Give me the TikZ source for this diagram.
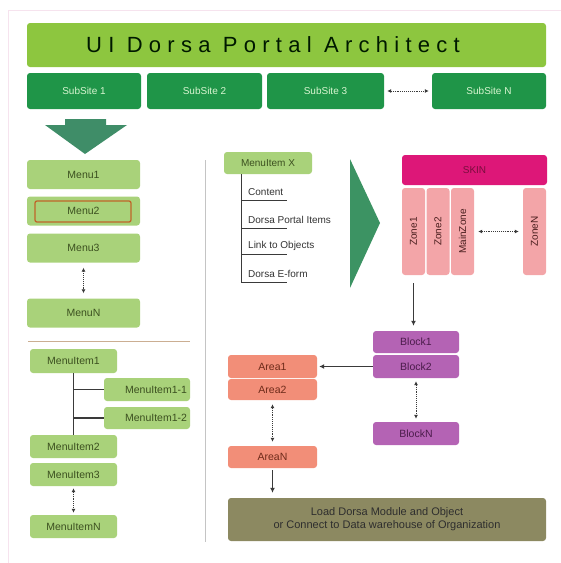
\documentclass[tikz,border=0pt]{standalone}
\usepackage{fontspec}
\setmainfont{Liberation Sans}
\usepackage{tikz}
\usetikzlibrary{arrows.meta}

\definecolor{titlegreen}{HTML}{8DC63F}
\definecolor{subgreen}{HTML}{1F9548}
\definecolor{subtext}{HTML}{D8F5D0}
\definecolor{menugreen}{HTML}{A9D27A}
\definecolor{menutext}{HTML}{3C5020}
\definecolor{bigarrow}{HTML}{3F8D68}
\definecolor{skincol}{HTML}{DD1778}
\definecolor{skintext}{HTML}{7A0E3E}
\definecolor{zonecol}{HTML}{F3A5A8}
\definecolor{zonetext}{HTML}{4A1E1E}
\definecolor{blockcol}{HTML}{B463B4}
\definecolor{blocktext}{HTML}{4B1C4B}
\definecolor{areacol}{HTML}{F28E78}
\definecolor{areatext}{HTML}{6E2B1A}
\definecolor{basecol}{HTML}{8C8961}
\definecolor{basetext}{HTML}{2E2E2E}
\definecolor{selframe}{HTML}{C0652A}
\definecolor{framecol}{HTML}{F6E3EE}
\definecolor{sepgray}{HTML}{C4C4C4}
\definecolor{septan}{HTML}{CBAE92}
\definecolor{linegray}{HTML}{3A3A3A}

\begin{document}
\begin{tikzpicture}[x=1pt,y=-1pt,
    every node/.style={inner sep=0pt},
    box/.style={rounded corners=3pt,font=\fontsize{10.5}{12}\selectfont},
    subbox/.style={box,fill=subgreen,text=subtext,minimum width=#1,minimum height=36pt,font=\fontsize{10}{12}\selectfont},
    menubox/.style={box,fill=menugreen,text=menutext,minimum width=#1},
    zonebox/.style={box,fill=zonecol,text=zonetext,rotate=90,minimum width=87pt,minimum height=23pt,font=\fontsize{10}{12}\selectfont},
    blockbox/.style={box,fill=blockcol,text=blocktext,minimum width=86pt,minimum height=#1},
    areabox/.style={box,fill=areacol,text=areatext,minimum width=89pt,minimum height=#1},
    itemtxt/.style={anchor=west,font=\fontsize{10}{12}\selectfont,text=black!80},
    treeline/.style={draw=linegray,line width=1.2pt},
    dotarr/.style={densely dotted,draw=linegray,line width=0.9pt,arrows={Latex[length=4pt,width=4pt]-Latex[length=4pt,width=4pt]}},
    solarr/.style={draw=linegray,line width=1pt,arrows={-Latex[length=5pt,width=5pt]}}]

  \useasboundingbox (0,0) rectangle (561,563);
  \draw[framecol,line width=1pt] (561,10) -- (8,10) -- (8,563);

  % header
  \node[box,fill=titlegreen,minimum width=519pt,minimum height=44pt] (title) at (286.5,45) {};
  \node[font={\fontsize{22}{26}\selectfont\addfontfeatures{LetterSpace=28.5}},text=black!90!green] (titletxt) at (273,45) {UI Dorsa Portal Architect};
  \node[subbox=114pt] (ss1) at (84,91) {SubSite 1};
  \node[subbox=115pt] (ss2) at (204.5,91) {SubSite 2};
  \node[subbox=117pt] (ss3) at (325.5,91) {SubSite 3};
  \node[subbox=114pt] (ssN) at (489,91) {SubSite N};
  \draw[dotarr,shorten <=3pt,shorten >=3pt] (ss3.east) -- (ssN.west);

  \fill[bigarrow] (65,119) -- (106,119) -- (106,125) -- (127,125) -- (85,154) -- (45,125) -- (65,125) -- cycle;

  % menus
  \foreach \name/\yy in {Menu1/174.5,Menu2/211,Menu3/248,MenuN/313}
    \node[menubox=113pt,minimum height=29pt] (\name) at (83.5,\yy) {\name};
  \node[draw=selframe,line width=1.3pt,rounded corners=2pt,minimum width=96pt,minimum height=21pt] (menusel) at (83,211.5) {};
  \draw[dotarr,shorten <=5pt,shorten >=5pt] (Menu3.south) -- (MenuN.south |- MenuN.north);

  \draw[sepgray,line width=0.8pt] (205,160) -- (205,542);
  \draw[septan,line width=1pt] (28,341) -- (190,341);

  % menu items
  \node[menubox=87pt,minimum height=24pt] (mi1) at (73.5,361) {MenuItem1};
  \node[menubox=86pt,minimum height=23pt,text width=80pt,align=right] (mi11) at (147,389.5) {MenuItem1-1};
  \node[menubox=86pt,minimum height=22pt,text width=80pt,align=right] (mi12) at (147,418) {MenuItem1-2};
  \node[menubox=87pt,minimum height=23pt] (mi2) at (73.5,446.5) {MenuItem2};
  \node[menubox=87pt,minimum height=23pt] (mi3) at (73.5,474.5) {MenuItem3};
  \node[menubox=87pt,minimum height=23pt] (miN) at (73.5,526.5) {MenuItemN};
  \draw[treeline] (mi1.south) -- (mi2.north);
  \draw[treeline] (mi11.west) -- (mi11.west -| mi1.south);
  \draw[treeline] (mi12.west) -- (mi12.west -| mi1.south);
  \draw[dotarr,shorten <=2pt,shorten >=2pt] (mi3.south) -- (miN.north);

  % menu item content
  \node[menubox=88pt,minimum height=22pt,font=\fontsize{10}{12}\selectfont] (mix) at (268,163) {MenuItem X};
  \coordinate (xroot) at (241,174);
  \coordinate (xend) at (241,282);
  \draw[treeline,line width=1pt] (xroot) -- (xend);
  \foreach \lbl/\yy [count=\i] in {Content/200,Dorsa Portal Items/228,Link to Objects/254,Dorsa E-form/282} {
    \node[itemtxt] (it\i) at (248,\yy-8) {\lbl};
    \draw[treeline,line width=1pt] (241,\yy) -- ++(46,0);
  }
  \fill[bigarrow!95!green] (350,159) -- (380,223) -- (350,288) -- cycle;

  % skin and zones
  \node[box,fill=skincol,text=skintext,minimum width=145pt,minimum height=30pt,font=\fontsize{10}{12}\selectfont] (skin) at (474.5,170) {SKIN};
  \node[zonebox] (zone1) at (413.5,231.5) {Zone1};
  \node[zonebox] (zone2) at (438,231.5) {Zone2};
  \node[zonebox] (mainzone) at (462.5,231.5) {MainZone};
  \node[zonebox] (zoneN) at (534.5,231.5) {ZoneN};
  \draw[dotarr,shorten <=4pt,shorten >=4pt] (mainzone.south) -- (zoneN.north);

  % blocks
  \node[blockbox=22pt] (block1) at (416,342) {Block1};
  \node[blockbox=23pt] (block2) at (416,366.5) {Block2};
  \node[blockbox=23pt] (blockN) at (416,433.5) {BlockN};
  \draw[solarr,shorten <=8pt,shorten >=5pt] (zone1.west) -- (zone1.west |- block1.north);
  \draw[dotarr,shorten <=3pt,shorten >=3pt] (block2.south) -- (blockN.north);

  % areas
  \node[areabox=23pt] (area1) at (272.5,366.5) {Area1};
  \node[areabox=21pt] (area2) at (272.5,389.5) {Area2};
  \node[areabox=22pt] (areaN) at (272.5,457) {AreaN};
  \draw[solarr,shorten >=2pt] (block2.west) -- (area1.east);
  \draw[dotarr,shorten <=4pt,shorten >=4pt] (area2.south) -- (areaN.north);

  \node[box,fill=basecol,text=basetext,minimum width=318pt,minimum height=43pt,align=center,font=\fontsize{11}{13}\selectfont] (base) at (387,519.5) {Load Dorsa Module and Object\\or Connect to Data warehouse of Organization};
  \draw[solarr,shorten <=2pt,shorten >=5pt] (areaN.south) -- (areaN.south |- base.north);
\end{tikzpicture}
\end{document}
